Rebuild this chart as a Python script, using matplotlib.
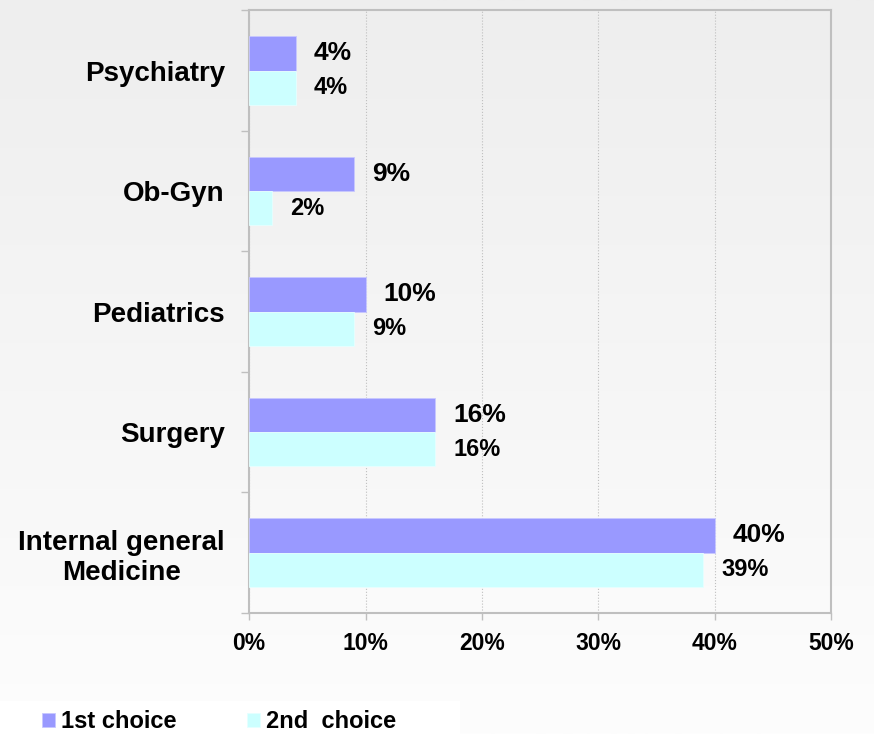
import numpy as np
import matplotlib
matplotlib.use('Agg')
import matplotlib.pyplot as plt
from matplotlib.colors import LinearSegmentedColormap
from matplotlib.patches import Rectangle

# Survey results: preferred specialty, first and second choice (%)
specialties = ['Psychiatry', 'Ob-Gyn', 'Pediatrics', 'Surgery', 'Internal general\nMedicine']
first_choice = [4, 9, 10, 16, 40]
second_choice = [4, 2, 9, 16, 39]
x_ticks = [0, 10, 20, 30, 40, 50]
series_names = ['1st choice', '2nd  choice']

plt.rcParams['font.family'] = ['Liberation Sans', 'DejaVu Sans']
plt.rcParams['font.weight'] = 'bold'

fig = plt.figure(figsize=(8.74, 7.34), dpi=100)

# soft grey-to-white background
bg = fig.add_axes([0, 0, 1, 1], zorder=-10)
grad = np.linspace(0, 1, 256).reshape(-1, 1)
bg_cmap = LinearSegmentedColormap.from_list('bg', ['#EEEEEE', '#FDFDFD'])
bg.imshow(grad, cmap=bg_cmap, aspect='auto', extent=[0, 1, 0, 1], origin='upper')
bg.axis('off')

# white strip behind the legend
fig.patches.append(Rectangle((0, 0), 460 / 874, 33 / 734, transform=fig.transFigure,
                             facecolor='white', edgecolor='none', zorder=-5))

ax = fig.add_axes([0.285, 0.165, 0.666, 0.821])
ax.patch.set_alpha(0)

y = np.arange(len(specialties))
h = 0.285
b1 = ax.barh(y - h / 2, first_choice, height=h, color='#9999FF', edgecolor='#C8C8FF',
             linewidth=0.6, label=series_names[0], zorder=3)
b2 = ax.barh(y + h / 2, second_choice, height=h, color='#CCFFFF', edgecolor='#E6FFFF',
             linewidth=0.6, label=series_names[1], zorder=3)

# value labels
for i in range(len(specialties)):
    ax.annotate(f'{first_choice[i]}%', (first_choice[i], y[i] - h / 2), xytext=(13, 0),
                textcoords='offset points', ha='left', va='center',
                fontsize=19, fontweight='bold')
    ax.annotate(f'{second_choice[i]}%', (second_choice[i], y[i] + h / 2), xytext=(13, 0),
                textcoords='offset points', ha='left', va='center',
                fontsize=17, fontweight='bold')

ax.set_xlim(x_ticks[0], x_ticks[-1])
ax.set_ylim(len(specialties) - 0.5, -0.5)

ax.set_xticks(x_ticks)
ax.set_xticklabels([f'{t}%' for t in x_ticks], fontsize=16.5, fontweight='bold')
ax.tick_params(axis='x', length=5, width=1, color='#BFBFBF', pad=9)

ax.set_yticks(y)
ax.set_yticklabels(specialties, fontsize=20, fontweight='bold',
                   multialignment='center', linespacing=1.2)
ax.tick_params(axis='y', which='major', length=0, pad=17.5)
ax.set_yticks(np.arange(-0.5, len(specialties), 1), minor=True)
ax.tick_params(axis='y', which='minor', length=6, width=1, color='#BFBFBF')

ax.set_axisbelow(True)
ax.xaxis.grid(True, linestyle=':', color='#BFBFBF', linewidth=0.8)

for side in ['left', 'right', 'top', 'bottom']:
    ax.spines[side].set_color('#BFBFBF')
    ax.spines[side].set_linewidth(1.5)

fig.legend(handles=[b1, b2], labels=series_names, loc='center left',
           bbox_to_anchor=(42 / 874, 1 - 722 / 734), ncol=2, frameon=False,
           fontsize=17, handlelength=0.55, handleheight=0.55, handletextpad=0.25,
           columnspacing=3.0, borderpad=0, borderaxespad=0)

fig.savefig('out.png', dpi=100)
